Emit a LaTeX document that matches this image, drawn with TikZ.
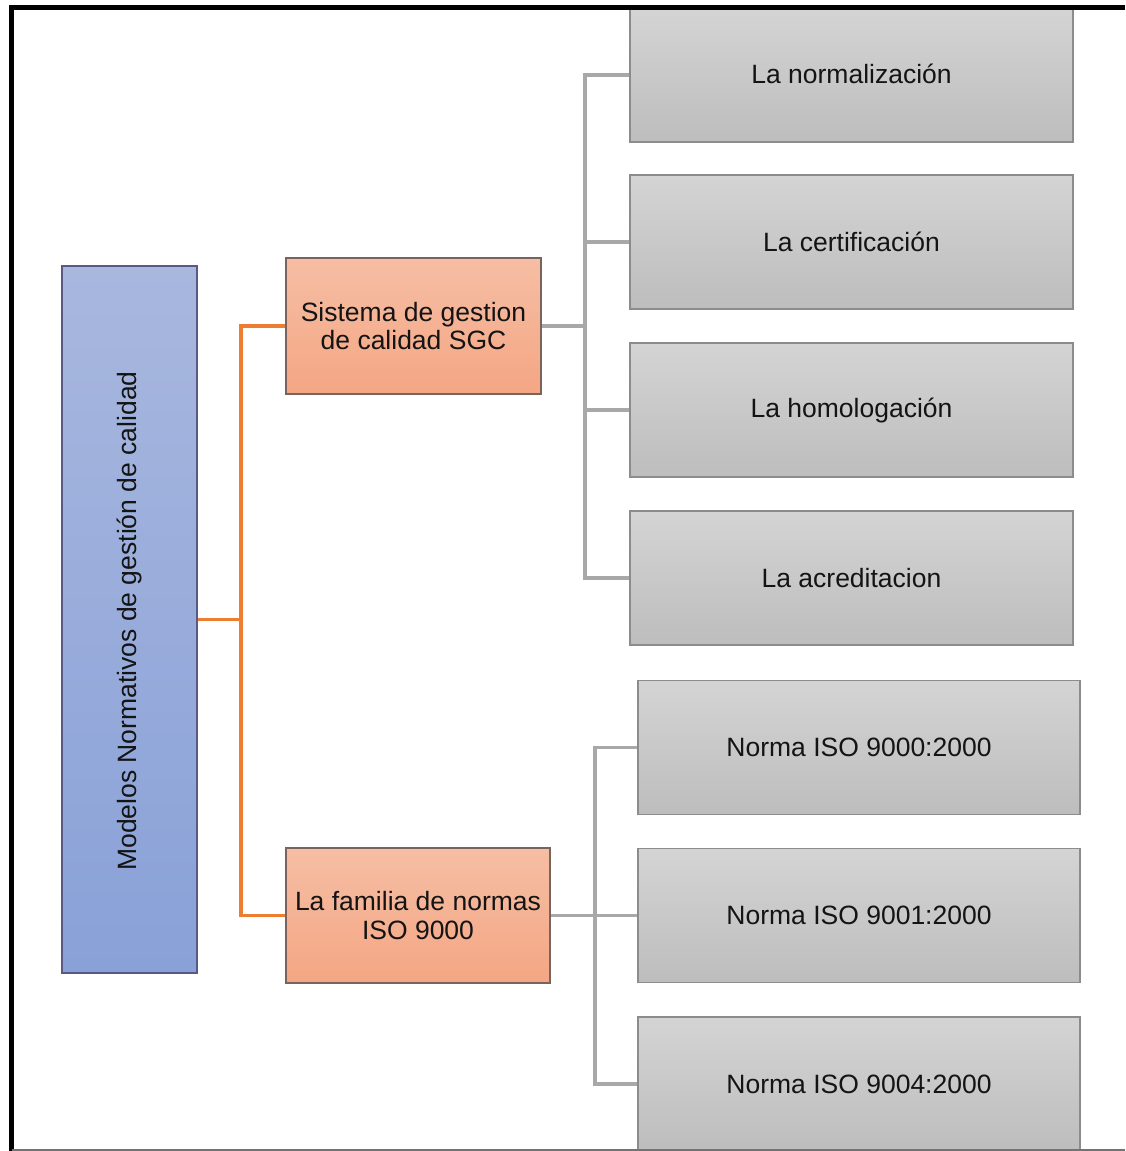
\documentclass[tikz,border=0pt]{standalone}
\usepackage{fontspec}
\setmainfont{Liberation Sans}
\begin{document}
\begin{tikzpicture}[x=1pt,y=-1pt,
  txt/.style={font=\fontsize{26.5}{28.5}\selectfont, text=black!92, align=center, inner sep=0pt},
  bluebox/.style={txt, draw=black!45!blue!30!gray, line width=1.2pt, top color={rgb,255:red,168;green,183;blue,222}, bottom color={rgb,255:red,137;green,161;blue,216}, minimum width=135pt, minimum height=707pt},
  orangebox/.style={txt, draw={rgb,255:red,120;green,100;blue,92}, line width=1.2pt, top color={rgb,255:red,246;green,190;blue,165}, bottom color={rgb,255:red,244;green,166;blue,131}},
  graybox/.style={txt, draw={rgb,255:red,140;green,140;blue,140}, line width=1.2pt, top color={rgb,255:red,212;green,212;blue,212}, bottom color={rgb,255:red,189;green,189;blue,189}, minimum height=134pt},
  oconn/.style={draw={rgb,255:red,237;green,125;blue,49}, line width=3.3pt},
  gconn/.style={draw={rgb,255:red,168;green,168;blue,168}, line width=3.3pt}
]
\useasboundingbox (0,0) rectangle (1125,1151);
\fill[white] (0,0) rectangle (1125,1151);

% left box
\node[bluebox] (blue) at (129.5,619.5) {};
\node[txt, rotate=90] (bluetxt) at (129.5,621) {Modelos Normativos de gestión de calidad};

% middle boxes
\node[orangebox, minimum width=255pt, minimum height=136pt] (sgc) at (413.5,326) {Sistema de gestion\\de calidad SGC};
\node[orangebox, minimum width=264pt, minimum height=135pt] (fam) at (418,915.5) {La familia de normas\\ISO 9000};

% right boxes, top group
\node[graybox, minimum width=443pt] (g1) at (851.5,75) {\raisebox{3pt}{La normalización}};
\node[graybox, minimum width=443pt] (g2) at (851.5,242) {\raisebox{1pt}{La certificación}};
\node[graybox, minimum width=443pt] (g3) at (851.5,410) {\raisebox{1pt}{La homologación}};
\node[graybox, minimum width=443pt] (g4) at (851.5,578) {La acreditacion};

% right boxes, bottom group
\node[graybox, minimum width=442pt] (h1) at (859,747.5) {Norma ISO 9000:2000};
\node[graybox, minimum width=442pt] (h2) at (859,915.5) {Norma ISO 9001:2000};
\node[graybox, minimum width=442pt] (h3) at (859,1084) {Norma ISO 9004:2000};

% orange connectors
\coordinate (oj) at (241,619.5);
\draw[oconn] (blue.east) -- (oj);
\draw[oconn] (sgc.west) -| (oj) |- (fam.west);

% gray connectors top
\coordinate (gj) at (585,326);
\draw[gconn] (sgc.east) -- (gj);
\draw[gconn] (g1.west) -| (gj) |- (g4.west);
\draw[gconn] (g2.west) -- (g2.west -| gj);
\draw[gconn] (g3.west) -- (g3.west -| gj);

% gray connectors bottom
\coordinate (hj) at (595,915.5);
\draw[gconn] (fam.east) -- (h2.west);
\draw[gconn] (h1.west) -| (hj) |- (h3.west);

% frame
\draw[line width=4.5pt, black] (11.5,1151) -- (11.5,7.5) -- (1125,7.5);
\draw[line width=2pt, black!55] (11.5,1150) -- (1125,1150);
\end{tikzpicture}
\end{document}
